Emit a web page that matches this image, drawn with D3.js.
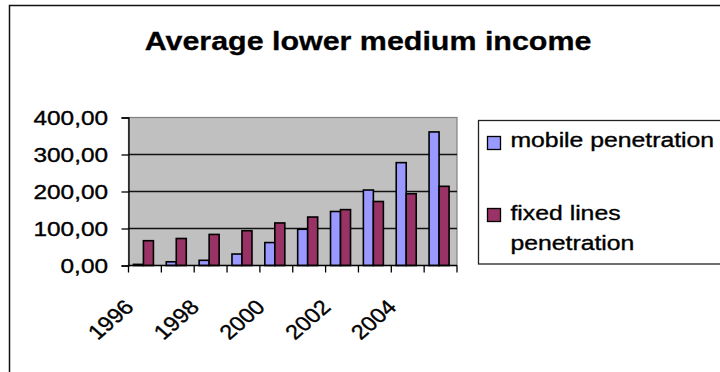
<!DOCTYPE html>
<html>
<head>
<meta charset="utf-8">
<script src="https://cdn.jsdelivr.net/npm/d3@7"></script>
<style>
  html, body { margin: 0; padding: 0; background: #fff; }
  svg { display: block; }
  text { font-family: "Liberation Sans", Arial, sans-serif; fill: #000; stroke: #000; stroke-width: 0.35px; }
  text.title { stroke-width: 0.3px; }
</style>
</head>
<body>
<svg id="chart" width="720" height="372"></svg>
<script>
// Penetration per year, lower-medium-income average
const years = [1996, 1997, 1998, 1999, 2000, 2001, 2002, 2003, 2004, 2005];
const mobilePenetration = [3, 10, 14, 31, 62, 98, 146, 204, 278, 361];
const fixedPenetration = [67, 73, 84, 94, 115, 131, 151, 173, 194, 214];
const yTickValues = [0, 100, 200, 300, 400];
const xTickLabels = ["1996", "1998", "2000", "2002", "2004"];
const seriesNames = ["mobile penetration", "fixed lines\npenetration"];
const seriesColors = ["#9999FF", "#993366"];
const title = "Average lower medium income";

const svg = d3.select("#chart");

const plot = { left: 128.5, right: 457, top: 117.5, bottom: 265.5 };

const locale = d3.formatLocale({ decimal: ",", thousands: ".", grouping: [3], currency: ["", ""] });
const fmt = locale.format(".2f");

// Text that is widened horizontally
function wideText(parent, x, y, str, size, sx, anchor, weight) {
  return parent.append("text")
    .attr("transform", `translate(${x},${y}) scale(${sx},1)`)
    .attr("text-anchor", anchor || "start")
    .attr("font-size", size)
    .attr("font-weight", weight || "normal")
    .text(str);
}

// Outer chart frame
svg.append("path")
  .attr("d", "M9.5,372 V5.5 H720")
  .attr("fill", "none")
  .attr("stroke", "#111")
  .attr("stroke-width", 1.5);

// Title
wideText(svg, 368, 50, title, 26, 1.17, "middle", "bold").attr("class", "title");

const x = d3.scaleBand().domain(years).range([plot.left, plot.right]).padding(0);
const y = d3.scaleLinear().domain([0, 400]).range([plot.bottom, plot.top]);

// Plot background
svg.append("rect")
  .attr("x", plot.left).attr("y", plot.top)
  .attr("width", plot.right - plot.left).attr("height", plot.bottom - plot.top)
  .attr("fill", "#C0C0C0")
  .attr("stroke", "#808080")
  .attr("stroke-width", 1.2);

// Gridlines
svg.append("g").selectAll("line")
  .data(yTickValues.filter(v => v > 0 && v < 400))
  .join("line")
  .attr("x1", plot.left).attr("x2", plot.right)
  .attr("y1", d => y(d)).attr("y2", d => y(d))
  .attr("stroke", "#111").attr("stroke-width", 1.3);

// Bars: two per year, grouped slightly left of the band centre
const barW = 10;
const groups = svg.append("g").selectAll("g")
  .data(years)
  .join("g")
  .attr("transform", d => `translate(${x(d) + x.bandwidth() / 2 - barW - 1.5},0)`);

[mobilePenetration, fixedPenetration].forEach((series, si) => {
  groups.append("rect")
    .attr("x", si * barW)
    .attr("y", (d, i) => y(series[i]))
    .attr("width", barW)
    .attr("height", (d, i) => y(0) - y(series[i]))
    .attr("fill", seriesColors[si])
    .attr("stroke", "#000")
    .attr("stroke-width", 1.6);
});

// Y axis
const yAxis = d3.axisLeft(y).tickValues(yTickValues).tickSize(7).tickFormat("");
const yg = svg.append("g").attr("transform", `translate(${plot.left},0)`).call(yAxis);
yg.select(".domain").attr("stroke", "#000").attr("stroke-width", 1.3);
yg.selectAll(".tick line").attr("stroke", "#000").attr("stroke-width", 1.3);
yTickValues.forEach(v => {
  wideText(svg, 108, y(v) + 7, fmt(v), 19.5, 1.25, "end");
});

// X axis with ticks between categories
const xBounds = years.map(d => x(d)).concat([plot.right]);
const xg = svg.append("g");
xg.append("line")
  .attr("x1", plot.left).attr("x2", plot.right)
  .attr("y1", plot.bottom).attr("y2", plot.bottom)
  .attr("stroke", "#000").attr("stroke-width", 1.3);
xg.selectAll("line.tick")
  .data(xBounds)
  .join("line")
  .attr("class", "tick")
  .attr("x1", d => d).attr("x2", d => d)
  .attr("y1", plot.bottom).attr("y2", plot.bottom + 7)
  .attr("stroke", "#000").attr("stroke-width", 1.3);

xTickLabels.forEach(lbl => {
  const cx = x(+lbl) + x.bandwidth() / 2;
  svg.append("text")
    .attr("transform", `translate(${cx - 10},${plot.bottom + 43}) scale(1.15,1) rotate(-45)`)
    .attr("text-anchor", "end")
    .attr("font-size", 20.5)
    .text(lbl);
});

// Legend
const lg = svg.append("g");
lg.append("rect")
  .attr("x", 478.5).attr("y", 120.5)
  .attr("width", 260).attr("height", 143.5)
  .attr("fill", "#fff")
  .attr("stroke", "#222").attr("stroke-width", 1.3);

const legendRows = [{ sy: 136.5, lines: [147] }, { sy: 208.5, lines: [220, 250] }];
seriesNames.forEach((name, i) => {
  lg.append("rect")
    .attr("x", 487.5).attr("y", legendRows[i].sy)
    .attr("width", 13).attr("height", 13)
    .attr("fill", seriesColors[i])
    .attr("stroke", "#000").attr("stroke-width", 1.3);
  name.split("\n").forEach((ln, j) => {
    wideText(lg, 510.5, legendRows[i].lines[j], ln, 19.5, 1.27, "start");
  });
});
</script>
</body>
</html>
